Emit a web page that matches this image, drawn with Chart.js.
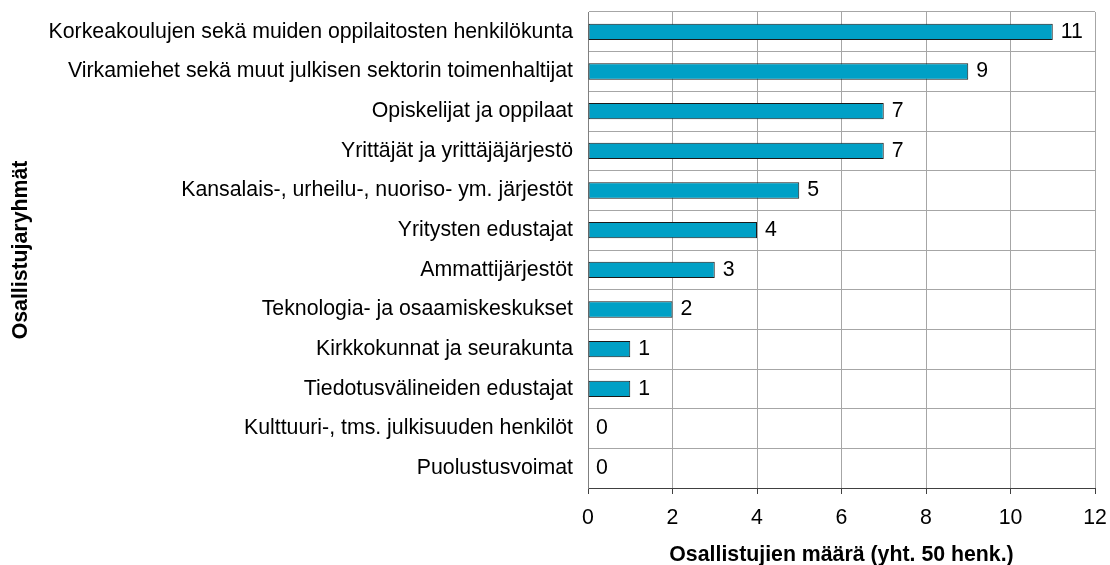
<!DOCTYPE html>
<html>
<head>
<meta charset="utf-8">
<script src="https://cdn.jsdelivr.net/npm/chart.js@4"></script>
<style>
  html, body { margin: 0; padding: 0; background: #ffffff; }
  #wrap { width: 1110px; height: 565px; }
</style>
</head>
<body>
<div id="wrap"><canvas id="c" width="1110" height="565"></canvas></div>
<script>
const categories = [
  "Korkeakoulujen sekä muiden oppilaitosten henkilökunta",
  "Virkamiehet sekä muut julkisen sektorin toimenhaltijat",
  "Opiskelijat ja oppilaat",
  "Yrittäjät ja yrittäjäjärjestö",
  "Kansalais-, urheilu-, nuoriso- ym. järjestöt",
  "Yritysten edustajat",
  "Ammattijärjestöt",
  "Teknologia- ja osaamiskeskukset",
  "Kirkkokunnat ja seurakunta",
  "Tiedotusvälineiden edustajat",
  "Kulttuuri-, tms. julkisuuden henkilöt",
  "Puolustusvoimat"
];
const participants = [11, 9, 7, 7, 5, 4, 3, 2, 1, 1, 0, 0];
const xTicks = [0, 2, 4, 6, 8, 10, 12];
const xTitle = "Osallistujien määrä (yht. 50 henk.)";
const yTitle = "Osallistujaryhmät";

const FONT = "'Liberation Sans', Arial, sans-serif";
const FS = 21.3;

const valueLabels = {
  id: 'valueLabels',
  afterDatasetsDraw(chart) {
    const ctx = chart.ctx;
    const meta = chart.getDatasetMeta(0);
    ctx.save();
    ctx.font = FS + 'px ' + FONT;
    ctx.fillStyle = '#000000';
    ctx.textAlign = 'left';
    ctx.textBaseline = 'middle';
    meta.data.forEach((bar, i) => {
      const v = chart.data.datasets[0].data[i];
      ctx.fillText(String(v), bar.x + 8, bar.y);
    });
    ctx.restore();
  }
};

function noPad(scale) {
  scale.paddingTop = 0;
  scale.paddingBottom = 0;
  scale.paddingLeft = 0;
  scale.paddingRight = 0;
}

new Chart(document.getElementById('c'), {
  type: 'bar',
  data: {
    labels: categories,
    datasets: [{
      data: participants,
      backgroundColor: '#00a0c6',
      borderColor: '#1a1a1a',
      borderWidth: 1,
      borderSkipped: false,
      categoryPercentage: 1.0,
      barPercentage: 0.41
    }]
  },
  options: {
    indexAxis: 'y',
    responsive: false,
    animation: false,
    devicePixelRatio: 1,
    layout: { padding: { top: 12, right: 15, bottom: 0, left: 0 } },
    plugins: {
      legend: { display: false },
      tooltip: { enabled: false }
    },
    scales: {
      x: {
        min: 0,
        max: 12,
        afterBuildTicks(scale) { scale.ticks = xTicks.map(v => ({ value: v })); },
        afterFit(scale) { scale.height = 77; noPad(scale); },
        ticks: {
          stepSize: 2,
          padding: 11,
          maxRotation: 0,
          color: '#000000',
          font: { family: FONT, size: FS }
        },
        grid: {
          color: '#a6a6a6',
          lineWidth: 1,
          drawTicks: true,
          tickLength: 6,
          tickColor: '#404040'
        },
        border: { display: true, color: '#404040', width: 1 },
        title: {
          display: true,
          text: xTitle,
          color: '#000000',
          font: { family: FONT, size: FS, weight: 'bold', lineHeight: 0.9 },
          padding: { top: 0, bottom: 0 }
        }
      },
      y: {
        afterFit(scale) { scale.width = 588; noPad(scale); },
        ticks: {
          autoSkip: false,
          padding: 15,
          color: '#000000',
          font: { family: FONT, size: FS }
        },
        grid: {
          color: '#a6a6a6',
          lineWidth: 1,
          drawTicks: false,
          tickLength: 0,
          offset: true
        },
        border: { display: true, color: '#808080', width: 1 },
        title: {
          display: true,
          text: yTitle,
          color: '#000000',
          font: { family: FONT, size: FS, weight: 'bold' },
          padding: { top: 8, bottom: 0 }
        }
      }
    }
  },
  plugins: [valueLabels]
});
</script>
</body>
</html>
